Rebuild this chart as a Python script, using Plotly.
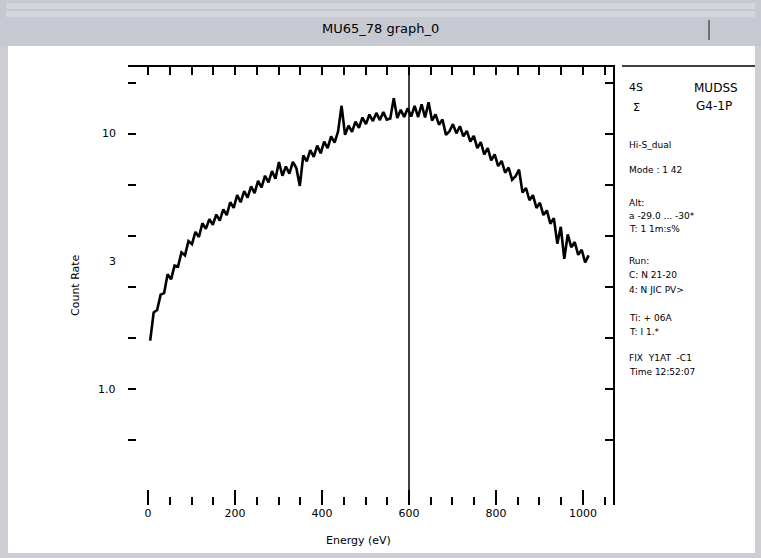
import plotly.graph_objects as go

# ---------------- data ----------------
x_start, x_step = 5, 8
counts = [
    1.95, 2.50, 2.55, 2.85, 2.88, 3.25, 3.15, 3.42, 3.40, 3.68,
    3.62, 3.90, 3.84, 4.08, 3.98, 4.25, 4.14, 4.33, 4.22, 4.42,
    4.30, 4.52, 4.41, 4.66, 4.55, 4.80, 4.66, 4.88, 4.75, 4.97,
    4.84, 5.08, 4.95, 5.18, 5.05, 5.27, 5.12, 5.45, 5.18, 5.36,
    5.22, 5.45, 5.33, 4.98, 5.58, 5.46, 5.68, 5.55, 5.77, 5.62,
    5.85, 5.72, 5.95, 5.83, 6.05, 6.55, 5.98, 6.16, 6.04, 6.24,
    6.12, 6.32, 6.19, 6.38, 6.25, 6.41, 6.27, 6.43, 6.28, 6.30,
    6.70, 6.31, 6.47, 6.33, 6.50, 6.34, 6.55, 6.33, 6.58, 6.32,
    6.62, 6.26, 6.38, 6.18, 6.28, 5.98, 6.05, 6.19, 6.01, 6.15,
    5.95, 6.06, 5.85, 5.96, 5.72, 5.84, 5.60, 5.72, 5.48, 5.60,
    5.37, 5.47, 5.24, 5.34, 5.10, 5.17, 5.30, 4.85, 4.94, 4.70,
    4.80, 4.55, 4.65, 4.41, 4.50, 4.24, 4.35, 3.85, 4.18, 3.55,
    4.03, 3.78, 3.88, 3.63, 3.73, 3.48, 3.62,
]
energy = [x_start + i * x_step for i in range(len(counts))]

x_tick_vals = [0, 200, 400, 600, 800, 1000]
x_tick_text = ["0", "200", "400", "600", "800", "1000"]
y_tick_vals = [0, 1, 2, 3, 4, 5, 6, 7]
y_label_vals = [6.0, 3.5, 1.0]
y_label_text = ["10", "3", "1.0"]
marker_x = 600

window_title = "MU65_78 graph_0"
x_title = "Energy (eV)"
y_title = "Count Rate"
panel_lines = [
    ("Hi-S_dual", 145), ("Mode : 1 42", 170),
    ("Alt:", 203), ("a -29.0 ... -30*", 216), ("T: 1 1m:s%", 229),
    ("Run:", 261), ("C: N 21-20", 275), ("4: N JIC PV>", 290),
    ("Ti: + 06A", 318), ("T: I 1.*", 332),
    ("FIX  Y1AT  -C1", 358), ("Time 12:52:07", 372),
]

# ---------------- geometry helpers ----------------
L, R, T, B = 128, 613, 67, 505
W, H = 761, 558


def px(xp):
    return (xp - L) / (R - L)


def py(yp):
    return (B - yp) / (B - T)


X_RANGE = [-46, 1069]
Y_RANGE = [-1.27, 7.31]
FONT = "DejaVu Sans"

fig = go.Figure()
fig.add_trace(go.Scatter(x=energy, y=counts, mode="lines",
                         line=dict(color="black", width=2.6),
                         showlegend=False, hoverinfo="skip"))
fig.add_trace(go.Scatter(x=[None], y=[None], xaxis="x2", yaxis="y2",
                         mode="lines", showlegend=False))

shapes = [
    dict(type="rect", xref="paper", yref="paper", layer="below",
         x0=px(8), x1=px(755), y0=py(553), y1=py(46),
         fillcolor="white", line=dict(width=0)),
    dict(type="rect", xref="paper", yref="paper", layer="below",
         x0=px(0), x1=px(761), y0=py(46), y1=py(0),
         fillcolor="#c6c9d2", line=dict(width=0)),
    dict(type="rect", xref="paper", yref="paper", layer="below",
         x0=px(6), x1=px(755), y0=py(17), y1=py(3),
         fillcolor="#d4d6dc", line=dict(width=0)),
    dict(type="line", xref="paper", yref="paper", layer="below",
         x0=px(6), x1=px(755), y0=py(10), y1=py(10),
         line=dict(color="#b8bbc4", width=1)),
    dict(type="line", xref="paper", yref="paper", layer="below",
         x0=px(709), x1=px(709), y0=py(40), y1=py(20),
         line=dict(color="#555", width=1.5)),
    dict(type="line", xref="paper", yref="paper",
         x0=px(622), x1=px(755), y0=py(66), y1=py(66),
         line=dict(color="black", width=1.5)),
    dict(type="line", xref="x", yref="paper",
         x0=marker_x, x1=marker_x, y0=0, y1=1,
         line=dict(color="black", width=1.5)),
]


def ann(text, x, y, size=11, xanchor="center", **kw):
    return dict(text=text, xref="paper", yref="paper", x=px(x), y=py(y),
                xanchor=xanchor, yanchor="middle", showarrow=False,
                font=dict(family=FONT, size=size, color="black"), **kw)


annotations = [
    ann(window_title, 380, 29, 13),
    ann(x_title, 358, 540, 11),
    ann(y_title, 75, 285, 11, textangle=-90),
    ann("4S", 627, 88, 11, xanchor="left"),
    ann("Σ", 631, 107, 11, xanchor="left"),
    ann("MUDSS", 716, 88, 12),
    ann("G4-1P", 714, 106, 12),
]
for txt, yp in panel_lines:
    annotations.append(ann(txt, 627, yp, 9, xanchor="left"))
for v, t in zip(y_label_vals, y_label_text):
    annotations.append(dict(text=t, xref="paper", yref="y", x=px(118), y=v,
                            xanchor="right", yanchor="middle", showarrow=False,
                            font=dict(family=FONT, size=11, color="black")))

tick_common = dict(ticks="inside", tickcolor="black", tickwidth=1.5,
                   showgrid=False, zeroline=False)

fig.update_layout(
    width=W, height=H,
    margin=dict(l=L, r=W - R, t=T, b=H - B, pad=0),
    paper_bgcolor="#cdced3",
    plot_bgcolor="rgba(0,0,0,0)",
    font=dict(family=FONT, size=11, color="black"),
    xaxis=dict(range=X_RANGE, showline=False, ticklen=15,
               tickvals=x_tick_vals, ticktext=x_tick_text,
               tickfont=dict(size=11),
               minor=dict(dtick=50, tick0=0, ticks="inside", ticklen=8,
                          tickwidth=1.5, tickcolor="black", showgrid=False),
               **tick_common),
    xaxis2=dict(range=X_RANGE, overlaying="x", side="top", anchor="y2",
                showline=True, linecolor="black", linewidth=1.5,
                ticklen=8, tick0=0, dtick=50, showticklabels=False,
                **tick_common),
    yaxis=dict(range=Y_RANGE, showline=False, ticklen=8,
               tickvals=y_tick_vals, showticklabels=False, **tick_common),
    yaxis2=dict(range=Y_RANGE, overlaying="y", side="right", anchor="x2",
                showline=True, linecolor="black", linewidth=1.5,
                ticklen=8, tickvals=y_tick_vals, showticklabels=False,
                **tick_common),
    shapes=shapes,
    annotations=annotations,
)

fig.write_html("out.html")
